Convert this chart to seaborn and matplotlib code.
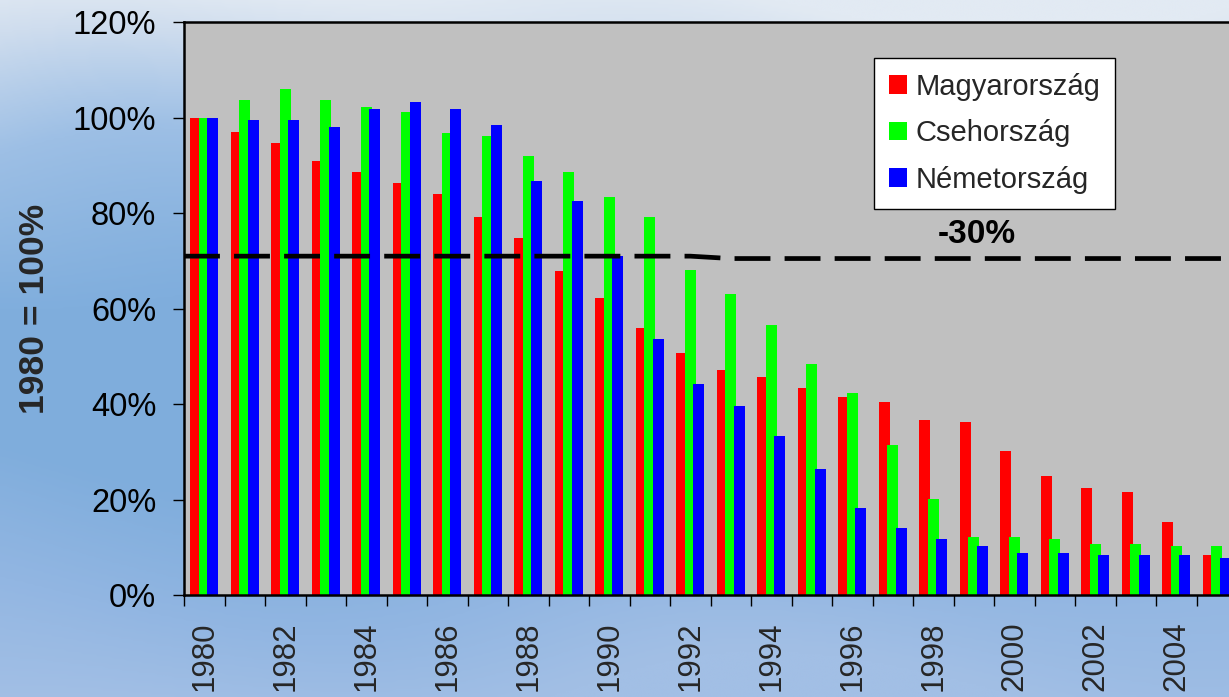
import numpy as np
import pandas as pd
import matplotlib
matplotlib.use("Agg")
import matplotlib.pyplot as plt
from matplotlib.colors import LinearSegmentedColormap
from matplotlib.ticker import FuncFormatter, FixedLocator
import seaborn as sns

# Index of output, 1980 = 100%
years = list(range(1980, 2006))
magyarorszag = [100.0, 97.1, 94.8, 91.0, 88.6, 86.3, 84.0, 79.2, 74.9, 67.8,
                62.2, 56.0, 50.8, 47.1, 45.6, 43.3, 41.4, 40.4, 36.7, 36.2,
                30.1, 24.9, 22.5, 21.5, 15.4, 8.3]
csehorszag = [100.0, 103.7, 106.0, 103.7, 102.3, 101.3, 96.7, 96.2, 91.9, 88.6,
              83.3, 79.1, 68.2, 63.1, 56.5, 48.5, 42.3, 31.4, 20.1, 12.1,
              12.1, 11.7, 10.7, 10.7, 10.2, 10.2]
nemetorszag = [100.0, 99.5, 99.5, 98.0, 101.8, 103.2, 101.8, 98.5, 86.7, 82.5,
               71.0, 53.6, 44.2, 39.5, 33.3, 26.3, 18.3, 14.0, 11.7, 10.2,
               8.8, 8.8, 8.3, 8.3, 8.3, 7.8]
countries = ["Magyarország", "Csehország", "Németország"]
colors = ["#FF0000", "#00FF00", "#0000FF"]

# -30% reference level per year
threshold = [71.0, 71.0, 71.0, 71.0, 71.0, 71.0, 71.0, 71.0, 71.0, 71.0,
             71.0, 71.0, 71.0, 70.5, 70.5, 70.5, 70.5, 70.5, 70.5, 70.5,
             70.5, 70.5, 70.5, 70.5, 70.5, 70.5]
threshold_label = "-30%"

y_ticks = [0, 20, 40, 60, 80, 100, 120]

df = pd.DataFrame({
    "year": years * 3,
    "value": magyarorszag + csehorszag + nemetorszag,
    "country": sum([[c] * len(years) for c in countries], []),
})

sns.set_style("white")
plt.rcParams["font.family"] = ["Liberation Sans", "DejaVu Sans"]

fig = plt.figure(figsize=(12.29, 6.97), dpi=100)

# soft sky-blue backdrop
bg = fig.add_axes([0, 0, 1, 1], zorder=-10)
sky = LinearSegmentedColormap.from_list(
    "sky", [(0.0, "#E2EAF3"), (0.08, "#CFDDEE"), (0.25, "#9DBFE5"),
            (0.45, "#80AEDD"), (0.65, "#7FADDC"), (0.85, "#92B6E2"),
            (1.0, "#A2BFE5")])
gy = np.linspace(0, 1, 300)[:, None]
gx = np.linspace(0, 1, 400)[None, :]
field = gy + 0.04 * np.sin(gx * 6.0 + gy * 4.0) + 0.03 * np.cos(gx * 11.0 - gy * 7.0)
bg.imshow(np.clip(field, 0, 1), cmap=sky, aspect="auto", extent=[0, 1, 1, 0],
          interpolation="bicubic")
bg.set_axis_off()

ax = fig.add_axes([184 / 1229, 102 / 697, 1053 / 1229, 572.7 / 697])
ax.set_facecolor("#C0C0C0")

sns.barplot(data=df, x="year", y="value", hue="country", hue_order=countries,
            palette=colors, width=0.63, gap=-0.29, linewidth=0, saturation=1,
            ax=ax)

# dashed reference line through the category centres, extended to the edges
xs = [-0.5] + list(range(len(years))) + [len(years) - 0.5]
ys = [threshold[0]] + threshold + [threshold[-1]]
ax.plot(xs, ys, color="black", lw=3.4, dashes=(7.6, 3.0), zorder=5,
        solid_capstyle="butt", dash_capstyle="butt")
ax.text(19.07, 75.6, threshold_label, ha="center", va="center",
        fontsize=24, fontweight="bold", color="black")

ax.set_xlim(-0.5, len(years) - 0.5)
ax.set_ylim(0, 120)
ax.set_yticks(y_ticks)
ax.yaxis.set_major_formatter(FuncFormatter(lambda v, p: f"{v:.0f}%"))
ax.tick_params(axis="y", direction="out", length=8, width=1, colors="black",
               labelsize=23.5, pad=12, left=True)

ax.set_xticks(range(0, len(years), 2))
ax.set_xticklabels([str(y) for y in years[::2]], rotation=90)
ax.xaxis.set_minor_locator(FixedLocator(np.arange(-0.5, len(years), 1.0)))
ax.tick_params(axis="x", which="major", length=0, labelsize=22.5, pad=19)
ax.tick_params(axis="x", which="minor", direction="out", length=8, width=1,
               color="black", bottom=True)

ax.set_xlabel("")
ax.set_ylabel("1980 = 100%", fontsize=25.5, fontweight="bold", labelpad=16)

for s in ax.spines.values():
    s.set_visible(True)
    s.set_color("black")
    s.set_linewidth(1.8)

handles, labels = ax.get_legend_handles_labels()
ax.legend(handles, labels, loc="upper left",
          bbox_to_anchor=(874 / 1229, 1 - 58 / 697),
          bbox_transform=fig.transFigure, fontsize=21, frameon=True,
          fancybox=False, framealpha=1, edgecolor="black", facecolor="white",
          handlelength=0.62, handleheight=0.62, handletextpad=0.3,
          labelspacing=0.64, borderpad=0.5, borderaxespad=0)
ax.get_legend().get_frame().set_linewidth(1.0)

fig.savefig("out.png", dpi=100)
